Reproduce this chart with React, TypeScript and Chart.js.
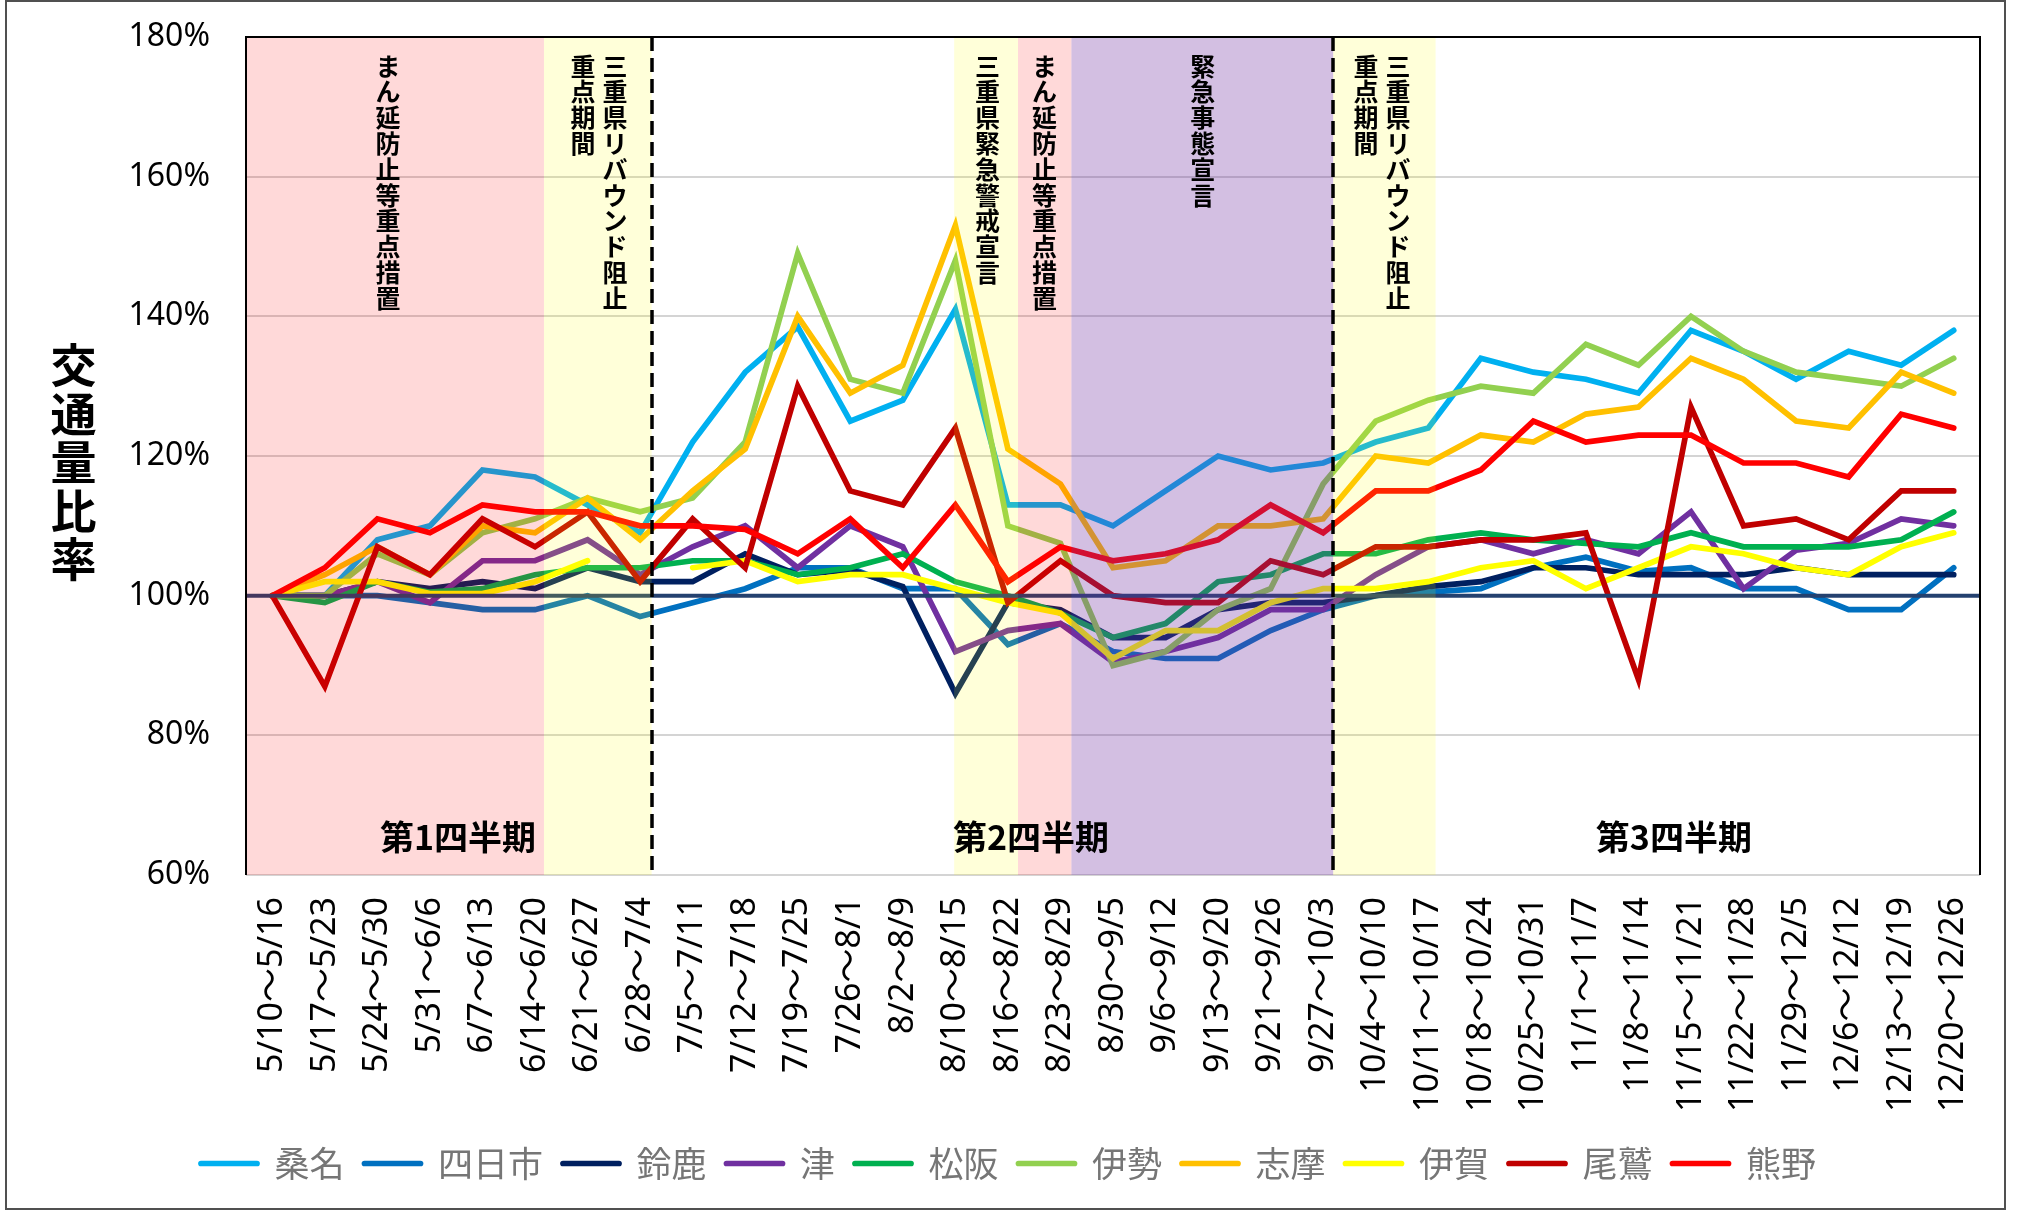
import React, { useEffect, useRef } from "react";
import { Chart, registerables } from "chart.js";

Chart.register(...registerables);

// ---------------- data ----------------
const weeks = [
  "5/10〜5/16", "5/17〜5/23", "5/24〜5/30", "5/31〜6/6", "6/7〜6/13", "6/14〜6/20",
  "6/21〜6/27", "6/28〜7/4", "7/5〜7/11", "7/12〜7/18", "7/19〜7/25", "7/26〜8/1",
  "8/2〜8/9", "8/10〜8/15", "8/16〜8/22", "8/23〜8/29", "8/30〜9/5", "9/6〜9/12",
  "9/13〜9/20", "9/21〜9/26", "9/27〜10/3", "10/4〜10/10", "10/11〜10/17", "10/18〜10/24",
  "10/25〜10/31", "11/1〜11/7", "11/8〜11/14", "11/15〜11/21", "11/22〜11/28", "11/29〜12/5",
  "12/6〜12/12", "12/13〜12/19", "12/20〜12/26",
];

const kuwana = [100, 100, 108, 110, 118, 117, 113, 109, 122, 132, 138.5, 125, 128, 141, 113, 113, 110, 115, 120, 118, 119, 122, 124, 134, 132, 131, 129, 138, 135, 131, 135, 133, 138];
const yokkaichi = [100, 100, 100, 99, 98, 98, 100, 97, 99, 101, 104, 104, 101, 101, 93, 96, 92, 91, 91, 95, 98, 100, 100.5, 101, 104, 105.5, 103.5, 104, 101, 101, 98, 98, 104];
const suzuka = [100, 100, 102, 101, 102, 101, 104, 102, 102, 106, 103, 103.7, 101.3, 86, 99, 98, 94, 94, 98, 99, 99, 100, 101.3, 102, 104, 104, 103, 103, 103, 104, 103, 103, 103];
const tsu = [100, 100, 102, 99, 105, 105, 108, 103, 107, 110, 104, 110, 107, 92, 95, 96, 90.5, 92, 94, 98, 98, 103, 107, 108, 106, 108, 106, 112, 101, 106.5, 107.5, 111, 110];
const matsusaka = [100, 99, 102, 100.5, 101, 103, 104, 104, 105, 105, 103, 104, 106, 102, 100, 97.5, 94, 96, 102, 103, 106, 106, 108, 109, 108, 107.5, 107, 109, 107, 107, 107, 108, 112];
const ise = [100, 100, 106, 103, 109, 111, 114, 112, 114, 122, 149, 131, 129, 148, 110, 107.5, 90, 92, 98, 101, 116, 125, 128, 130, 129, 136, 133, 140, 135, 132, 131, 130, 134];
const shima = [100, 103, 107, 103, 110, 109, 114, 108, 115, 121, 140, 129, 133, 153, 121, 116, 104, 105, 110, 110, 111, 120, 119, 123, 122, 126, 127, 134, 131, 125, 124, 132, 129];
const iga = [100, 102, 102, 100.3, 100.3, 102, 105, null, 104, 105, 102, 103, 103, 101, 99, 97.5, 91, 95, 95, 99, 101, 101, 102, 104, 105, 101, 104, 107, 106, 104, 103, 107, 109];
const owase = [100, 87, 107, 103, 111, 107, 112, 102, 111, 104, 130, 115, 113, 124, 99, 105, 100, 99, 99, 105, 103, 107, 107, 108, 108, 109, 88, 127, 110, 111, 108, 115, 115];
const kumano = [100, 104, 111, 109, 113, 112, 112, 110, 110, 109.5, 106, 111, 104, 113, 102, 107, 105, 106, 108, 113, 109, 115, 115, 118, 125, 122, 123, 123, 119, 119, 117, 126, 124];

const seriesNames = ["桑名", "四日市", "鈴鹿", "津", "松阪", "伊勢", "志摩", "伊賀", "尾鷲", "熊野"];
const seriesValues = [kuwana, yokkaichi, suzuka, tsu, matsusaka, ise, shima, iga, owase, kumano];

const yMin = 60;
const yMax = 180;
const yStep = 20;
const baselineValue = 100;
const yTitle = "交通量比率";

// periods (in category-index units)
const periodStart = [-0.5, 5.171, 12.977, 14.192, 15.209, 20.19];
const periodEnd = [5.171, 7.22, 14.192, 15.209, 20.19, 22.139];
const periodKind = ["pink", "yellow", "yellow", "pink", "purple", "yellow"];

const noteText = ["まん延防止等重点措置", "三重県リバウンド阻止", "重点期間", "三重県緊急警戒宣言", "まん延防止等重点措置", "緊急事態宣言", "三重県リバウンド阻止", "重点期間"];
const noteX = [2.202, 6.523, 5.914, 13.612, 14.698, 17.709, 21.424, 20.815];

const quarterBreaks = [7.22, 20.19];
const quarterText = ["第1四半期", "第2四半期", "第3四半期"];
const quarterX = [3.534, 14.438, 26.674];
const quarterY = 65.4;

// ---------------- styles ----------------
const seriesColors = ["#00B0F0", "#0070C0", "#002060", "#7030A0", "#00B050", "#92D050", "#FFC000", "#FFFF00", "#C00000", "#FF0000"];
const bandFill: Record<string, string> = {
  pink: "rgba(255,0,0,0.15)",
  yellow: "rgba(255,255,0,0.15)",
  purple: "rgba(112,48,160,0.31)",
};
const JP = '"Noto Sans CJK JP", "Noto Sans", sans-serif';
const TICK = '"Noto Sans", "Noto Sans CJK JP", sans-serif';
const LINE_W = 5.7;

const overlayPlugin = {
  id: "overlay",
  afterDatasetsDraw(chart: any) {
    const { ctx, chartArea: a } = chart;
    const xs = chart.scales.x;
    const ys = chart.scales.y;
    ctx.save();
    // 100% reference line
    const yb = ys.getPixelForValue(baselineValue);
    ctx.strokeStyle = "#24416F";
    ctx.lineWidth = 4;
    ctx.beginPath();
    ctx.moveTo(a.left, yb);
    ctx.lineTo(a.right, yb);
    ctx.stroke();
    // period bands (translucent, on top of lines)
    periodStart.forEach((s, i) => {
      const x0 = xs.getPixelForValue(s);
      const x1 = xs.getPixelForValue(periodEnd[i]);
      ctx.fillStyle = bandFill[periodKind[i]];
      ctx.fillRect(x0, a.top, x1 - x0, a.bottom - a.top);
    });
    // quarter dashed lines
    ctx.strokeStyle = "#000";
    ctx.lineWidth = 3.5;
    ctx.setLineDash([14, 7]);
    quarterBreaks.forEach((v) => {
      const px = Math.round(xs.getPixelForValue(v));
      ctx.beginPath();
      ctx.moveTo(px, a.top);
      ctx.lineTo(px, a.bottom);
      ctx.stroke();
    });
    ctx.setLineDash([]);
    // vertical notes
    ctx.fillStyle = "#000";
    ctx.font = `bold 25px ${JP}`;
    ctx.textAlign = "center";
    ctx.textBaseline = "middle";
    noteText.forEach((t, i) => {
      const px = xs.getPixelForValue(noteX[i]);
      Array.from(t).forEach((ch, k) => {
        ctx.fillText(ch, px, a.top + 29 + k * 25.8);
      });
    });
    // quarter labels
    ctx.font = `bold 34px ${JP}`;
    quarterText.forEach((t, i) => {
      ctx.fillText(t, xs.getPixelForValue(quarterX[i]), ys.getPixelForValue(quarterY));
    });
    // plot frame (top, left, right)
    ctx.strokeStyle = "#000";
    ctx.lineWidth = 2;
    ctx.beginPath();
    ctx.moveTo(a.left, a.bottom);
    ctx.lineTo(a.left, a.top);
    ctx.lineTo(a.right, a.top);
    ctx.lineTo(a.right, a.bottom);
    ctx.stroke();
    // y title (stacked vertically)
    ctx.font = `bold 46px ${JP}`;
    const mid = (a.top + a.bottom) / 2 + 6;
    Array.from(yTitle).forEach((ch, k) => {
      ctx.fillText(ch, 73.5, mid + (k - 2) * 48.5);
    });
    ctx.restore();
  },
  afterDraw(chart: any) {
    const { ctx } = chart;
    ctx.save();
    ctx.strokeStyle = "#505050";
    ctx.lineWidth = 2;
    ctx.strokeRect(6, 1, 1999, 1208);
    ctx.restore();
  },
};

export default function App() {
  const ref = useRef<HTMLCanvasElement | null>(null);

  useEffect(() => {
    document.body.style.margin = "0";
    const canvas = ref.current;
    if (!canvas) return;
    const n = seriesNames.length;
    const chart = new Chart(canvas, {
      type: "line",
      data: {
        labels: weeks,
        datasets: seriesNames.map((name, i) => ({
          label: name,
          data: seriesValues[i],
          borderColor: seriesColors[i],
          backgroundColor: seriesColors[i],
          borderWidth: LINE_W,
          pointRadius: 0,
          pointHoverRadius: 0,
          tension: 0,
          spanGaps: false,
          borderCapStyle: "round",
          borderJoinStyle: "miter",
          order: n - i,
        })),
      },
      options: {
        responsive: false,
        animation: false,
        devicePixelRatio: 1,
        events: [],
        layout: { padding: { left: 0, top: 37, right: 0, bottom: 20 } },
        scales: {
          x: {
            type: "category",
            offset: true,
            grid: { display: false, drawTicks: false },
            border: { display: false },
            ticks: {
              autoSkip: false,
              maxRotation: 90,
              minRotation: 90,
              padding: 22,
              color: "#000",
              font: { family: TICK, size: 34 },
            },
            afterFit: (s: any) => {
              s.height = 251;
              s.paddingLeft = 0;
              s.paddingRight = 0;
            },
          },
          y: {
            min: yMin,
            max: yMax,
            grid: { color: "#D4D4D4", lineWidth: 2, drawTicks: false },
            border: { display: false },
            ticks: {
              stepSize: yStep,
              padding: 36,
              color: "#000",
              font: { family: TICK, size: 32 },
              callback: (v: any) => `${v}%`,
            },
            afterFit: (s: any) => {
              s.width = 246;
              s.paddingTop = 0;
              s.paddingBottom = 0;
            },
          },
          yRight: {
            type: "linear",
            position: "right",
            display: true,
            grid: { display: false, drawTicks: false },
            border: { display: false },
            ticks: { display: false },
            afterFit: (s: any) => {
              s.width = 37;
              s.paddingTop = 0;
              s.paddingBottom = 0;
            },
          },
        },
        plugins: {
          tooltip: { enabled: false },
          title: { display: false },
          legend: {
            position: "bottom",
            labels: {
              usePointStyle: true,
              pointStyle: "line",
              pointStyleWidth: 56,
              padding: 20,
              color: "#767676",
              font: { family: JP, size: 35 },
              sort: (a: any, b: any) => a.datasetIndex - b.datasetIndex,
              generateLabels: (c: any) =>
                (Chart.defaults.plugins.legend.labels.generateLabels as any)(c).map((l: any) => ({
                  ...l,
                  pointStyle: "line",
                  lineWidth: LINE_W,
                  lineCap: "round",
                  strokeStyle: seriesColors[l.datasetIndex],
                  fillStyle: seriesColors[l.datasetIndex],
                })),
            },
          },
        },
      },
      plugins: [overlayPlugin],
    } as any);
    return () => chart.destroy();
  }, []);

  return (
    <div style={{ position: "absolute", left: 0, top: 0, width: 2017, height: 1211, background: "#fff" }}>
      <canvas ref={ref} width={2017} height={1211} style={{ display: "block", width: 2017, height: 1211 }} />
    </div>
  );
}
